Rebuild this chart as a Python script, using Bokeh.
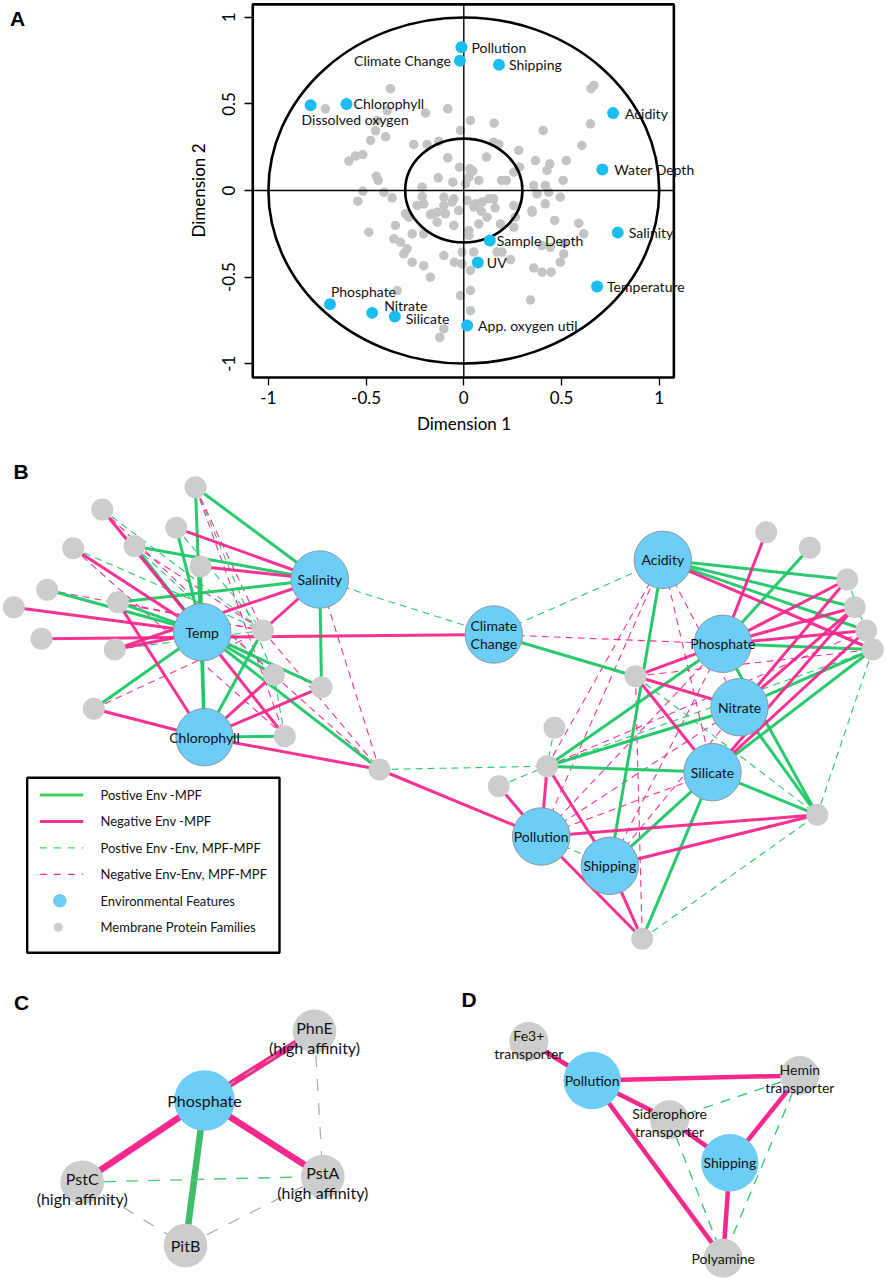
from bokeh.plotting import figure
from bokeh.models import Range1d, FixedTicker, BoxAnnotation, LabelSet, ColumnDataSource
from bokeh.layouts import column
from bokeh.embed import file_html
from bokeh.resources import INLINE
from bokeh.core.properties import value

FONT = "Lato"
BOLD_FONT = "Liberation Sans"

# ======================= Panel A data =======================
env_names = ["Pollution", "Climate Change", "Shipping", "Chlorophyll", "Dissolved oxygen",
             "Acidity", "Water Depth", "Salinity", "Sample Depth", "UV", "Temperature",
             "Phosphate", "Nitrate", "Silicate", "App. oxygen util"]
env_dim1 = [-0.012, -0.020, 0.180, -0.600, -0.784, 0.764, 0.709, 0.788, 0.133, 0.072, 0.682,
            -0.685, -0.469, -0.353, 0.017]
env_dim2 = [0.828, 0.750, 0.727, 0.500, 0.493, 0.447, 0.121, -0.243, -0.289, -0.416, -0.555,
            -0.657, -0.707, -0.728, -0.780]

mpf_dim1 = [
    -0.375, -0.708, -0.392, -0.196, -0.082, -0.443, -0.452, -0.400, -0.477, -0.517, -0.554, -0.588,
    -0.256, -0.188, -0.128, -0.082, -0.017, -0.448, -0.438, -0.213, -0.131, -0.056, -0.517, -0.409,
    0.034, 0.155, 0.406, 0.648, 0.665, 0.651, 0.605, 0.153, 0.179, 0.281, 0.116, 0.367, 0.440,
    0.426, 0.525, 0.285, 0.256, 0.077, 0.193, 0.218, 0.508, 0.358, 0.417, 0.435, -0.022, 0.031,
    0.046, 0.026, 0.009,
    -0.542, -0.367, -0.486, -0.350, -0.298, -0.281, -0.239, -0.205, -0.264, -0.358, -0.324, -0.290,
    -0.307, -0.264, -0.205, -0.171, -0.102, -0.048, -0.009, -0.009, -0.160, -0.136, -0.102, -0.060,
    -0.094, -0.051, -0.136, -0.205, -0.017, -0.341, -0.102, -0.123, -0.171, -0.026, -0.102, -0.051,
    -0.213,
    0.051, 0.034, 0.034, 0.034, 0.026, 0.026, 0.051, 0.017, 0.350, 0.465, 0.588, 0.614, 0.400,
    0.443, 0.511, 0.494, 0.358, 0.400, 0.447, 0.341, 0.170, 0.196, 0.239, 0.264, 0.256, 0.077,
    0.119, 0.188, 0.375, 0.417, 0.494, 0.060, 0.094, 0.128, 0.153, 0.256, 0.349, 0.512, 0.090,
    0.160]
mpf_dim2 = [
    0.588, 0.472, 0.462, 0.447, 0.472, 0.405, 0.345, 0.310, 0.289, 0.208, 0.200, 0.170,
    0.266, 0.266, 0.285, 0.189, 0.347, 0.083, 0.058, 0.019, 0.073, 0.048, -0.004, -0.010,
    0.405, 0.389, 0.347, 0.385, 0.607, 0.588, 0.260, 0.279, 0.266, 0.231, 0.193, 0.173, 0.154,
    0.116, 0.173, 0.135, 0.106, 0.058, 0.058, 0.058, 0.058, 0.029, 0.029, -0.010, 0.135, 0.125,
    0.112, 0.077, 0.039,
    -0.062, -0.042, -0.241, -0.202, -0.135, -0.154, -0.087, -0.077, -0.250, -0.279, -0.299, -0.337,
    -0.366, -0.414, -0.434, -0.501, -0.376, -0.414, -0.356, -0.424, -0.135, -0.125, -0.087, -0.067,
    -0.135, -0.202, -0.183, -0.250, -0.607, -0.578, -0.800, -0.848, -0.139, -0.116, -0.039, -0.048,
    -0.035,
    -0.356, -0.462, -0.578, -0.694, -0.231, -0.260, -0.096, -0.058, -0.125, -0.173, -0.189, -0.250,
    -0.318, -0.328, -0.366, -0.414, -0.447, -0.472, -0.472, -0.632, -0.356, -0.356, -0.399, -0.154,
    -0.212, -0.193, -0.154, -0.193, -0.019, -0.077, -0.039, -0.077, -0.067, -0.048, -0.048, -0.087,
    -0.116, -0.304, -0.120, -0.100]

circle_radii = [1.0, 0.3]
tick_values = [-1.0, -0.5, 0.0, 0.5, 1.0]
tick_labels = ["-1", "-0.5", "0", "0.5", "1"]
plot_lo, plot_hi = -1.08, 1.075      # R-style extended plotting region

# label placement (styling): screen-pixel offsets (right, down) and alignment
env_label_dx = [10, -9, 10, 7, -9, 12, 12, 11, 7, 9, 10, 1, 12, 11, 11]
env_label_dy = [0, 0, 0, 0, 14, 0, 0, 0, 0, 0, 0, -13, -7, 2, 0]
env_label_align = ["left", "right"] + ["left"] * 13

# ======================= Panel B data (network layout, page pixels) =======================
b_env_names = ["Temp", "Salinity", "Chlorophyll", "Climate Change", "Acidity", "Phosphate",
               "Nitrate", "Silicate", "Pollution", "Shipping"]
b_env_labels = ["Temp", "Salinity", "Chlorophyll", "Climate\nChange", "Acidity", "Phosphate",
                "Nitrate", "Silicate", "Pollution", "Shipping"]
b_env_x = [201.7, 319.3, 204.0, 493.3, 662.3, 722.3, 739.0, 712.0, 540.7, 609.3]
b_env_y = [631.7, 579.0, 736.7, 634.0, 559.3, 643.3, 706.7, 771.7, 836.0, 865.3]

b_mpf_ids = ["g%d" % i for i in range(1, 30)]
b_mpf_x = [195.0, 101.7, 175.7, 72.7, 134.0, 200.0, 46.7, 13.3, 117.3, 41.0, 114.3, 262.3,
           273.3, 321.0, 93.3, 284.3, 379.0, 765.7, 809.3, 846.7, 854.3, 865.7, 872.3, 635.0,
           554.0, 546.7, 498.3, 816.7, 641.7]
b_mpf_y = [486.7, 509.0, 527.3, 547.7, 545.7, 566.0, 589.3, 606.7, 601.7, 638.3, 649.0, 630.0,
           674.3, 686.7, 708.3, 735.7, 769.0, 531.7, 547.3, 579.0, 606.7, 630.0, 649.0, 675.7,
           727.3, 765.7, 785.7, 814.3, 938.3]

pos_env_mpf = [
    ("g1", "Chlorophyll"), ("g1", "Salinity"), ("g3", "Temp"), ("g5", "Salinity"), ("g5", "Temp"),
    ("g6", "Chlorophyll"), ("g7", "Temp"), ("g9", "Salinity"), ("g9", "Temp"), ("g12", "Chlorophyll"),
    ("Salinity", "g14"), ("Temp", "g13"), ("Temp", "g14"), ("Temp", "g17"), ("g15", "Temp"),
    ("g16", "Chlorophyll"),
    ("Climate Change", "g24"), ("Acidity", "g20"), ("Acidity", "g21"), ("Acidity", "g22"),
    ("Acidity", "Shipping"), ("g19", "Phosphate"), ("g23", "Phosphate"), ("Phosphate", "g26"),
    ("Nitrate", "g26"), ("Silicate", "g26"), ("Nitrate", "g23"), ("Silicate", "g23"),
    ("Nitrate", "g28"), ("Phosphate", "g28"), ("Silicate", "g28"), ("Silicate", "g29"),
    ("Shipping", "Silicate")]
neg_env_mpf = [
    ("g2", "Temp"), ("g3", "Salinity"), ("g4", "Temp"), ("g6", "Salinity"), ("g8", "Temp"),
    ("g9", "Chlorophyll"), ("g10", "Climate Change"), ("g11", "Temp"), ("g11", "Salinity"),
    ("g12", "Salinity"), ("g14", "Chlorophyll"), ("g13", "Chlorophyll"), ("Temp", "g16"),
    ("g15", "Chlorophyll"), ("Chlorophyll", "g17"), ("g17", "Pollution"),
    ("Acidity", "g23"), ("g18", "Phosphate"), ("g20", "Phosphate"), ("g21", "Phosphate"),
    ("g22", "Phosphate"), ("g24", "Phosphate"), ("g24", "Nitrate"), ("g24", "Silicate"),
    ("Nitrate", "g20"), ("Nitrate", "g21"), ("Silicate", "g21"), ("Silicate", "g22"),
    ("Pollution", "g28"), ("Shipping", "g28"), ("Pollution", "g29"), ("Shipping", "g29"),
    ("g26", "Pollution"), ("g27", "Pollution"), ("g26", "Shipping")]
pos_dashed = [
    ("Salinity", "Climate Change"), ("Climate Change", "Acidity"), ("g17", "g26"), ("g2", "g12"),
    ("g3", "g12"), ("g4", "g12"), ("g11", "g12"), ("g16", "g13"), ("g25", "g26"), ("g27", "g26"),
    ("g29", "g28"), ("g23", "g28"), ("g20", "g23"), ("g26", "g23"), ("Pollution", "Shipping"),
    ("g1", "g13"), ("g5", "g13"), ("g24", "g28")]
neg_dashed = [
    ("g2", "g13"), ("g1", "g12"), ("g9", "g12"), ("g15", "g12"), ("g12", "g17"), ("g13", "g17"),
    ("Salinity", "g17"), ("g7", "g12"), ("Climate Change", "Phosphate"), ("Pollution", "Acidity"),
    ("Shipping", "Acidity"), ("Pollution", "Phosphate"), ("Shipping", "Phosphate"),
    ("Pollution", "Nitrate"), ("g26", "Nitrate"), ("g26", "Acidity"), ("Shipping", "Nitrate"),
    ("g24", "g29"), ("Acidity", "Silicate"), ("Acidity", "Nitrate"), ("Pollution", "Silicate"),
    ("g24", "g23"), ("g26", "g22"), ("g1", "g16"), ("g5", "g12"), ("g4", "g16")]

legend_labels = ["Postive Env -MPF", "Negative Env -MPF", "Postive Env -Env, MPF-MPF",
                 "Negative Env-Env, MPF-MPF", "Environmental Features", "Membrane Protein Families"]

# ======================= Panel C data =======================
c_names = ["Phosphate", "PhnE", "PstC", "PstA", "PitB"]
c_labels = ["Phosphate", "PhnE\n(high affinity)", "PstC\n(high affinity)",
            "PstA\n(high affinity)", "PitB"]
c_kind = ["env", "mpf", "mpf", "mpf", "mpf"]
c_x = [204.0, 314.0, 81.7, 322.3, 185.0]
c_y = [1100.0, 1030.7, 1181.7, 1176.0, 1245.0]
c_neg = [("Phosphate", "PhnE"), ("Phosphate", "PstC"), ("Phosphate", "PstA")]
c_pos = [("Phosphate", "PitB")]
c_pos_dashed = [("PstC", "PstA")]
c_other_dashed = [("PhnE", "PstA"), ("PstC", "PitB"), ("PitB", "PstA"), ("Phosphate", "PhnE")]

# ======================= Panel D data =======================
d_names = ["Pollution", "Shipping", "Fe3+", "Hemin", "Siderophore", "Polyamine"]
d_labels = ["Pollution", "Shipping", "Fe3+\ntransporter", "Hemin\ntransporter",
            "Siderophore\ntransporter", "Polyamine"]
d_kind = ["env", "env", "mpf", "mpf", "mpf", "mpf"]
d_x = [591.7, 729.3, 528.3, 799.3, 669.0, 722.7]
d_y = [1080.0, 1162.3, 1041.0, 1075.0, 1119.3, 1257.7]
d_neg = [("Pollution", "Fe3+"), ("Pollution", "Hemin"), ("Pollution", "Siderophore"),
         ("Siderophore", "Shipping"), ("Pollution", "Polyamine"), ("Shipping", "Hemin"),
         ("Shipping", "Polyamine")]
d_pos_dashed = [("Siderophore", "Hemin"), ("Siderophore", "Polyamine"), ("Hemin", "Polyamine")]

# ======================= styles =======================
GREEN = "#1cc765"
MAGENTA = "#f5288c"
LEG_GREEN = "#45d35a"
LEG_MAGENTA = "#f2348f"
BLUE_NODE = "#6ccdf7"
BLUE_OUT = "#8d9aa3"
GRAY_NODE = "#cdcdcd"
A_BLUE = "#1bbdf0"
A_GRAY = "#c4c4c4"

W = 886
HA = 460
HB = 818

# ======================= Figure A =======================
# page-pixel geometry of panel A's plotting region
X0_PX, X_PX_PER_UNIT = 463.3, 195.4
Y0_PX, Y_PX_PER_UNIT = 190.0, 173.1
pa = figure(width=W, height=HA,
            x_range=Range1d(-X0_PX / X_PX_PER_UNIT, (W - X0_PX) / X_PX_PER_UNIT),
            y_range=Range1d((Y0_PX - HA) / Y_PX_PER_UNIT, Y0_PX / Y_PX_PER_UNIT),
            output_backend="svg", toolbar_location=None, min_border=0)
pa.grid.visible = False
pa.outline_line_color = None
for ax in (pa.xaxis[0], pa.yaxis[0]):
    ax.fixed_location = plot_lo
    ax.bounds = (tick_values[0], tick_values[-1])
    ax.ticker = FixedTicker(ticks=tick_values)
    ax.major_label_overrides = dict(zip(tick_values, tick_labels))
    ax.axis_line_color = None
    ax.major_tick_out = 8
    ax.major_tick_in = 0
    ax.major_tick_line_width = 1.3
    ax.minor_tick_line_color = None
    ax.major_label_text_font = FONT
    ax.major_label_text_font_size = "17px"
    ax.major_label_text_color = "black"
    ax.axis_label_text_font = FONT
    ax.axis_label_text_font_size = "17px"
    ax.axis_label_text_font_style = "normal"
    ax.axis_label_text_color = "black"
pa.xaxis.axis_label = "Dimension 1"
pa.yaxis.axis_label = "Dimension 2"
pa.xaxis.major_label_standoff = 6
pa.xaxis.axis_label_standoff = 5
pa.yaxis.major_label_standoff = 10
pa.yaxis.axis_label_standoff = 10
pa.yaxis.major_label_orientation = "vertical"

pa.scatter(mpf_dim1, mpf_dim2, size=9.5, color=A_GRAY, line_color=None)
pa.segment(x0=[0.0, plot_lo], y0=[plot_lo, 0.0], x1=[0.0, plot_hi], y1=[plot_hi, 0.0],
           line_color="black", line_width=1.4)
pa.ellipse(x=[0.0] * len(circle_radii), y=[0.0] * len(circle_radii),
           width=[2 * r for r in circle_radii], height=[2 * r for r in circle_radii],
           fill_color=None, line_color="black", line_width=2.6)
pa.add_layout(BoxAnnotation(left=plot_lo, right=plot_hi, bottom=plot_lo, top=plot_hi,
                            fill_color=None, fill_alpha=0, line_color="black", line_width=2.6,
                            line_alpha=1.0))
pa.scatter(env_dim1, env_dim2, size=12, color=A_BLUE, line_color=None)
lab_src = ColumnDataSource(dict(x=env_dim1, y=env_dim2, text=env_names, dx=env_label_dx,
                                dy=[-d for d in env_label_dy], align=env_label_align))
pa.add_layout(LabelSet(x="x", y="y", text="text", source=lab_src, x_offset="dx", y_offset="dy",
                       text_align="align", text_baseline="middle", text_font=value(FONT),
                       text_font_size="14px", text_color="#111111"))

# panel letter A (placed at page pixel (17, 18))
pa.text([(17 - X0_PX) / X_PX_PER_UNIT], [(Y0_PX - 18) / Y_PX_PER_UNIT], text=["A"],
        text_align="center", text_baseline="middle", text_font=value(BOLD_FONT),
        text_font_style="bold", text_font_size="21px", text_color="black")

# ======================= Figure B/C/D =======================
pb = figure(width=W, height=HB, x_range=Range1d(0, W), y_range=Range1d(HA + HB, HA),
            output_backend="svg", toolbar_location=None, x_axis_type=None, y_axis_type=None,
            min_border=0)
pb.grid.visible = False
pb.outline_line_color = None


def positions(names, xs, ys):
    return {n: (x, y) for n, x, y in zip(names, xs, ys)}


def edges_xy(pos, edges):
    xs = [[pos[a][0], pos[b][0]] for a, b in edges]
    ys = [[pos[a][1], pos[b][1]] for a, b in edges]
    return xs, ys


def add_texts(fig, xs, ys, labels, size, line_h, block_dy):
    tx, ty, tt = [], [], []
    for x, y, lab in zip(xs, ys, labels):
        lines = lab.split("\n")
        n = len(lines)
        off = block_dy if n > 1 else 0.0
        for k, line in enumerate(lines):
            tx.append(x)
            ty.append(y + off + (k - (n - 1) / 2.0) * line_h)
            tt.append(line)
    fig.text(tx, ty, text=tt, text_align="center", text_baseline="middle",
             text_font=value(FONT), text_font_size=size, text_color="#111111")


# ---- Panel B ----
posB = positions(b_env_names + b_mpf_ids, b_env_x + b_mpf_x, b_env_y + b_mpf_y)
for edges, col, w, dash in [(pos_dashed, GREEN, 1.1, "7 5"), (neg_dashed, MAGENTA, 1.1, "7 5"),
                            (pos_env_mpf, GREEN, 3.0, "solid"), (neg_env_mpf, MAGENTA, 3.0, "solid")]:
    xs, ys = edges_xy(posB, edges)
    pb.multi_line(xs, ys, line_color=col, line_width=w, line_dash=dash, line_alpha=0.95)
pb.circle(b_mpf_x, b_mpf_y, radius=11, fill_color=GRAY_NODE, line_color=None)
pb.circle(b_env_x, b_env_y, radius=28.7, fill_color=BLUE_NODE, line_color=BLUE_OUT, line_width=1)
add_texts(pb, b_env_x, b_env_y, b_env_labels, "14px", 18.3, 0.0)

# legend
leg_top, leg_step = 794.5, 26.45
leg_y = [leg_top + i * leg_step for i in range(len(legend_labels))]
pb.quad(left=26.7, right=279.0, top=777.3, bottom=952.3, fill_color="white", line_color="black",
        line_width=2.4)
pb.segment(x0=[39.3] * 4, x1=[82.7] * 4, y0=leg_y[:4], y1=leg_y[:4],
           line_color=[LEG_GREEN, LEG_MAGENTA, LEG_GREEN, LEG_MAGENTA],
           line_width=[3, 3, 1.3, 1.3], line_dash="solid")
pb.segment(x0=[39.3] * 2, x1=[82.7] * 2, y0=leg_y[2:4], y1=leg_y[2:4], line_color="white",
           line_width=2, line_dash="7 7", line_dash_offset=7)
pb.circle([59.3], [leg_y[4]], radius=6.8, fill_color=BLUE_NODE, line_color=None)
pb.circle([57.7], [leg_y[5]], radius=4.6, fill_color=GRAY_NODE, line_color=None)
pb.text([100.0] * len(legend_labels), leg_y, text=legend_labels, text_align="left",
        text_baseline="middle", text_font=value(FONT), text_font_size="13px", text_color="#111111")

# ---- Panel C ----
posC = positions(c_names, c_x, c_y)
for edges, col, w, dash in [(c_neg, MAGENTA, 6.5, "solid"), (c_pos, "#3dbd68", 6.5, "solid"),
                            (c_pos_dashed, "#4ccb74", 1.4, "12 10"),
                            (c_other_dashed, "#a9a9a9", 1.2, "12 12")]:
    xs, ys = edges_xy(posC, edges)
    pb.multi_line(xs, ys, line_color=col, line_width=w, line_dash=dash)
c_r = [30.3 if k == "env" else 21.8 for k in c_kind]
pb.circle(c_x, c_y, radius=c_r, fill_color=[BLUE_NODE if k == "env" else GRAY_NODE for k in c_kind],
          line_color=None)
add_texts(pb, c_x, c_y, c_labels, "16px", 20.0, 6.0)

# ---- Panel D ----
posD = positions(d_names, d_x, d_y)
for edges, col, w, dash in [(d_pos_dashed, "#2bc96f", 1.3, "10 8"), (d_neg, MAGENTA, 4.5, "solid")]:
    xs, ys = edges_xy(posD, edges)
    pb.multi_line(xs, ys, line_color=col, line_width=w, line_dash=dash)
d_r = [28.7 if k == "env" else 19.5 for k in d_kind]
pb.circle(d_x, d_y, radius=d_r, fill_color=[BLUE_NODE if k == "env" else GRAY_NODE for k in d_kind],
          line_color=None)
add_texts(pb, d_x, d_y, d_labels, "14px", 18.5, 2.75)

# panel letters
pb.text([20.5, 21.0, 468.7], [470.5, 1001.7, 998.7], text=["B", "C", "D"], text_align="center",
        text_baseline="middle", text_font=value(BOLD_FONT), text_font_style="bold",
        text_font_size="21px", text_color="black")

layout = column(pa, pb, spacing=0)
open("out.html", "w").write(file_html(layout, INLINE))
